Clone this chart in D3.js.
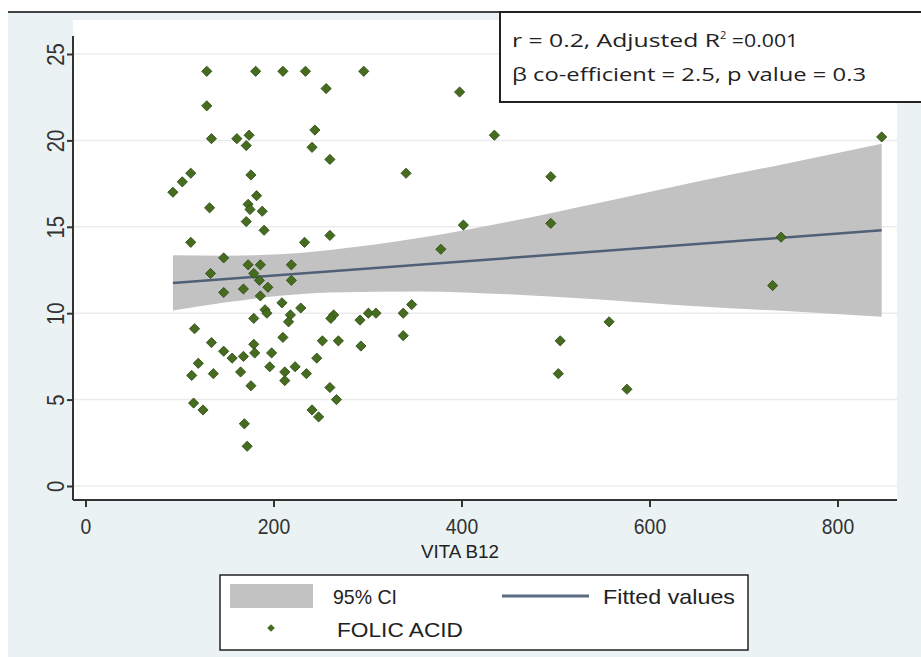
<!DOCTYPE html>
<html lang="en">
<head>
<meta charset="utf-8">
<title>Folic acid vs Vit B12</title>
<style>
body { margin: 0; background: #fff; }
.tick text { font-family: "Liberation Sans Narrow", "Arial Narrow", "Liberation Sans", Arial, sans-serif; fill: #333; }
.lab { font-family: "Liberation Sans Narrow", "Arial Narrow", "Liberation Sans", Arial, sans-serif; fill: #222; }
.note { font-family: "Open Sans", "Noto Sans", sans-serif; fill: #222; }
</style>
</head>
<body>
<div id="chart"></div>
<script src="https://d3js.org/d3.v7.min.js"></script>
<script>
// VITA B12 (x) and FOLIC ACID (y)
var vitB12 = [129, 181, 210, 234, 296, 256, 398, 129, 244, 435, 134, 161, 174, 171, 241, 260,
  112, 103, 93, 176, 341, 495, 182, 173, 175, 188, 171, 190, 132, 112, 233, 260, 402, 495,
  378, 147, 133, 173, 186, 179, 185, 194, 219, 219, 168, 147, 186, 209, 229, 191, 193, 179,
  218, 216, 264, 261, 292, 301, 309, 338, 347, 116, 210, 134, 147, 156, 168, 179, 180, 198,
  196, 252, 269, 246, 293, 338, 120, 113, 136, 165, 176, 212, 212, 223, 235, 260, 267, 115,
  125, 241, 248, 169, 172, 505, 503, 557, 576, 731, 740, 847];
var folicAcid = [24.0, 24.0, 24.0, 24.0, 24.0, 23.0, 22.8, 22.0, 20.6, 20.3, 20.1, 20.1, 20.3, 19.7, 19.6, 18.9,
  18.1, 17.6, 17.0, 18.0, 18.1, 17.9, 16.8, 16.3, 16.0, 15.9, 15.3, 14.8, 16.1, 14.1, 14.1, 14.5, 15.1, 15.2,
  13.7, 13.2, 12.3, 12.8, 12.8, 12.3, 11.9, 11.5, 12.8, 11.9, 11.4, 11.2, 11.0, 10.6, 10.3, 10.2, 10.0, 9.7,
  9.9, 9.5, 9.9, 9.7, 9.6, 10.0, 10.0, 10.0, 10.5, 9.1, 8.6, 8.3, 7.8, 7.4, 7.5, 8.2, 7.7, 7.7,
  6.9, 8.4, 8.4, 7.4, 8.1, 8.7, 7.1, 6.4, 6.5, 6.6, 5.8, 6.6, 6.1, 6.9, 6.5, 5.7, 5.0, 4.8,
  4.4, 4.4, 4.0, 3.6, 2.3, 8.4, 6.5, 9.5, 5.6, 11.6, 14.4, 20.2];

// fitted line and 95% CI band
var fitX = [93, 847];
var fitY = [11.75, 14.8];
var ciX = [93, 150, 207, 260, 356, 450, 547, 650, 750, 847];
var ciLow = [10.15, 10.63, 11.01, 11.2, 11.26, 11.09, 10.79, 10.4, 10.11, 9.8];
var ciHigh = [13.35, 13.33, 13.41, 13.66, 14.36, 15.29, 16.39, 17.6, 18.71, 19.8];

var xTicks = [0, 200, 400, 600, 800];
var yTicks = [0, 5, 10, 15, 20, 25];

var W = 921, H = 657;
var svg = d3.select("#chart").append("svg")
  .attr("width", W)
  .attr("height", H);

// graph region background
svg.append("rect").attr("x", 8).attr("y", 12).attr("width", W - 8).attr("height", H - 12)
  .attr("fill", "#eaf2f3");
svg.append("line").attr("x1", 8).attr("x2", W).attr("y1", 12).attr("y2", 12)
  .attr("stroke", "#444").attr("stroke-width", 2);

var pLeft = 73, pRight = 897, pTop = 20, pBottom = 500;
svg.append("rect").attr("x", pLeft).attr("y", pTop).attr("width", pRight - pLeft).attr("height", pBottom - pTop)
  .attr("fill", "#fff");

var x = d3.scaleLinear().domain([0, 800]).range([85.5, 837.5]);
var y = d3.scaleLinear().domain([0, 25]).range([486, 54]);

// grid
svg.append("g").selectAll("line").data(yTicks).enter().append("line")
  .attr("x1", pLeft).attr("x2", pRight)
  .attr("y1", function(d) { return y(d); }).attr("y2", function(d) { return y(d); })
  .attr("stroke", "#ececec").attr("stroke-width", 1.5);

// CI band
var ciData = ciX.map(function(d, i) { return { x: d, lo: ciLow[i], hi: ciHigh[i] }; });
svg.append("path")
  .datum(ciData)
  .attr("fill", "#c2c2c2")
  .attr("d", d3.area()
    .x(function(d) { return x(d.x); })
    .y0(function(d) { return y(d.lo); })
    .y1(function(d) { return y(d.hi); })
    .curve(d3.curveMonotoneX));

// fitted values
var fitData = fitX.map(function(d, i) { return [d, fitY[i]]; });
svg.append("path")
  .datum(fitData)
  .attr("fill", "none")
  .attr("stroke", "#4f6078")
  .attr("stroke-width", 2.5)
  .attr("d", d3.line()
    .x(function(d) { return x(d[0]); })
    .y(function(d) { return y(d[1]); }));

// points
var diamond = d3.symbol().type(d3.symbolSquare).size(52);
svg.append("g").selectAll("path")
  .data(vitB12)
  .enter()
  .append("path")
  .attr("d", diamond)
  .attr("transform", function(d, i) {
    return "translate(" + x(d) + "," + y(folicAcid[i]) + ") rotate(45)";
  })
  .attr("fill", "#466d1f")
  .attr("stroke", "#2e4a14")
  .attr("stroke-width", 0.8);

// axes
var yAxis = svg.append("g")
  .attr("transform", "translate(" + pLeft + ",0)")
  .call(d3.axisLeft(y).tickValues(yTicks).tickSize(6).tickPadding(0));
yAxis.select(".domain").remove();
yAxis.selectAll(".tick line").attr("stroke", "#333").attr("stroke-width", 2);
yAxis.selectAll(".tick text")
  .attr("x", null).attr("dy", null)
  .attr("text-anchor", "middle")
  .attr("transform", "translate(-9,0) rotate(-90) scale(0.88,1)")
  .style("font-size", "23px");

var xAxis = svg.append("g")
  .attr("transform", "translate(0," + pBottom + ")")
  .call(d3.axisBottom(x).tickValues(xTicks).tickSize(7).tickPadding(0));
xAxis.select(".domain").remove();
xAxis.selectAll(".tick line").attr("stroke", "#333").attr("stroke-width", 2);
xAxis.selectAll(".tick text")
  .attr("dy", null).attr("y", 34)
  .attr("transform", "scale(0.88,1)")
  .style("font-size", "22px");

svg.append("line").attr("x1", pLeft).attr("x2", pLeft).attr("y1", 36).attr("y2", pBottom)
  .attr("stroke", "#333").attr("stroke-width", 2);
svg.append("line").attr("x1", pLeft).attr("x2", pRight).attr("y1", pBottom).attr("y2", pBottom)
  .attr("stroke", "#333").attr("stroke-width", 2);

svg.append("text").attr("class", "lab")
  .attr("x", 421).attr("y", 558)
  .attr("textLength", 78).attr("lengthAdjust", "spacingAndGlyphs")
  .style("font-size", "19px")
  .text("VITA B12");

// stats box
svg.append("rect").attr("x", 500).attr("y", 12).attr("width", 430).attr("height", 90)
  .attr("fill", "#fff").attr("stroke", "#222").attr("stroke-width", 2);
var t1 = svg.append("text").attr("class", "note")
  .attr("x", 512).attr("y", 47)
  .style("font-size", "19px");
t1.append("tspan").attr("textLength", 208).attr("lengthAdjust", "spacingAndGlyphs").text("r = 0.2, Adjusted R");
t1.append("tspan").attr("dy", -8).style("font-size", "11px").text("2");
t1.append("tspan").attr("dy", 8).attr("textLength", 72).attr("lengthAdjust", "spacingAndGlyphs").text(" =0.001");
svg.append("text").attr("class", "note")
  .attr("x", 512).attr("y", 81)
  .attr("textLength", 354).attr("lengthAdjust", "spacingAndGlyphs")
  .style("font-size", "19px")
  .text("\u03b2 co-efficient = 2.5, p value = 0.3");

// legend
var lg = svg.append("g");
lg.append("rect").attr("x", 220).attr("y", 575).attr("width", 528).attr("height", 75)
  .attr("fill", "#fff").attr("stroke", "#222").attr("stroke-width", 1.5);
lg.append("rect").attr("x", 230).attr("y", 584).attr("width", 83).attr("height", 24)
  .attr("fill", "#c2c2c2");
lg.append("text").attr("class", "lab").attr("x", 333).attr("y", 604)
  .attr("textLength", 64).attr("lengthAdjust", "spacingAndGlyphs")
  .style("font-size", "21px").text("95% CI");
lg.append("line").attr("x1", 502).attr("x2", 589).attr("y1", 596).attr("y2", 596)
  .attr("stroke", "#5a6b82").attr("stroke-width", 3);
lg.append("text").attr("class", "lab").attr("x", 603).attr("y", 604)
  .attr("textLength", 132).attr("lengthAdjust", "spacingAndGlyphs")
  .style("font-size", "21px").text("Fitted values");
lg.append("path").attr("d", d3.symbol().type(d3.symbolSquare).size(30))
  .attr("transform", "translate(271,628) rotate(45)")
  .attr("fill", "#466d1f");
lg.append("text").attr("class", "lab").attr("x", 337).attr("y", 637)
  .attr("textLength", 126).attr("lengthAdjust", "spacingAndGlyphs")
  .style("font-size", "21px").text("FOLIC ACID");
</script>
</body>
</html>
